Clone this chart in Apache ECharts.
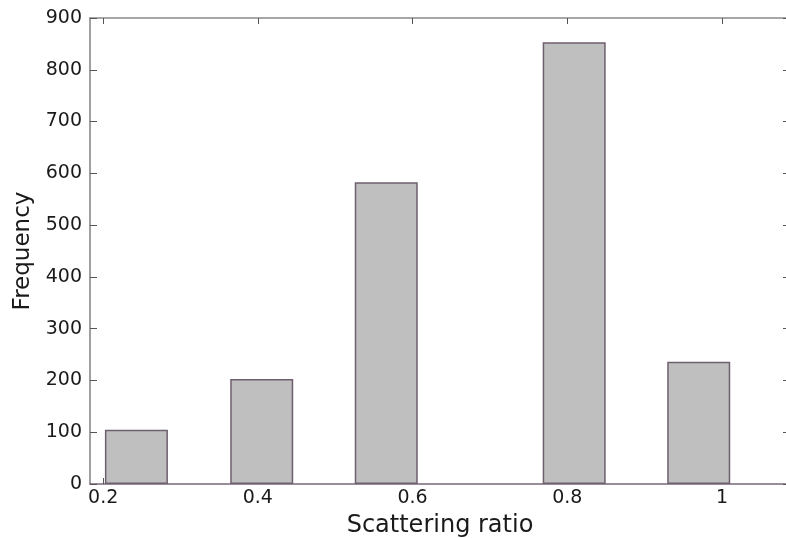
<!DOCTYPE html>
<html>
<head>
<meta charset="utf-8">
<script src="https://cdn.jsdelivr.net/npm/echarts@6/dist/echarts.min.js"></script>
<style>
  html, body { margin: 0; padding: 0; background: #fff; }
  #chart { width: 786px; height: 538px; }
</style>
</head>
<body>
<div id="chart"></div>
<script>
// Histogram of scattering ratio: bin centres and counts
const binCenters = [0.243, 0.405, 0.566, 0.809, 0.970];
const frequencies = [105, 203, 583, 853, 236];
const xTicks = [0.2, 0.4, 0.6, 0.8, 1];
const yTicks = [0, 100, 200, 300, 400, 500, 600, 700, 800, 900];

const font = 'DejaVu Sans, Verdana, sans-serif';
const xMin = 0.183, xMax = 1.088;

const chart = echarts.init(document.getElementById('chart'), null, { renderer: 'canvas' });

const boxAxisX = (pos, showLabel, lineColor) => ({
  type: 'value',
  position: pos,
  min: xMin,
  max: xMax,
  name: showLabel ? 'Scattering ratio' : '',
  nameLocation: 'middle',
  nameGap: 30,
  nameTextStyle: { fontFamily: font, fontSize: 24, color: '#1a1a1a' },
  axisLine: { show: true, onZero: false, lineStyle: { color: lineColor, width: 1.5 } },
  axisTick: { show: true, inside: true, length: 6, customValues: xTicks, lineStyle: { color: '#555' } },
  axisLabel: {
    show: showLabel,
    customValues: xTicks,
    fontFamily: font, fontSize: 19, color: '#1a1a1a', margin: 5,
    formatter: v => String(+v.toFixed(1))
  },
  splitLine: { show: false }
});

const boxAxisY = (pos, showLabel) => ({
  type: 'value',
  position: pos,
  min: 0,
  max: 900,
  interval: 100,
  name: showLabel ? 'Frequency' : '',
  nameLocation: 'middle',
  nameGap: 53,
  nameTextStyle: { fontFamily: font, fontSize: 23, color: '#1a1a1a' },
  axisLine: { show: true, lineStyle: { color: '#808080', width: 1.5 } },
  axisTick: { show: true, inside: true, length: 7, lineStyle: { color: '#555' } },
  axisLabel: {
    show: showLabel,
    fontFamily: font, fontSize: 19, color: '#1a1a1a', margin: 8,
    formatter: v => yTicks.includes(v) ? String(v) : ''
  },
  splitLine: { show: false }
});

chart.setOption({
  animation: false,
  backgroundColor: '#ffffff',
  grid: { left: 90, top: 18, right: -4, bottom: 54, containLabel: false, outerBoundsMode: 'none' },
  xAxis: [boxAxisX('bottom', true, '#7a687a'), boxAxisX('top', false, '#8a8a8a')],
  yAxis: [boxAxisY('left', true), boxAxisY('right', false)],
  series: [{
    type: 'bar',
    xAxisIndex: 0,
    yAxisIndex: 0,
    barWidth: 63,
    data: binCenters.map((c, i) => [c, frequencies[i]]),
    itemStyle: { color: '#c0bfc0', borderColor: '#6e5f6e', borderWidth: 1.5 }
  }]
});
</script>
</body>
</html>
